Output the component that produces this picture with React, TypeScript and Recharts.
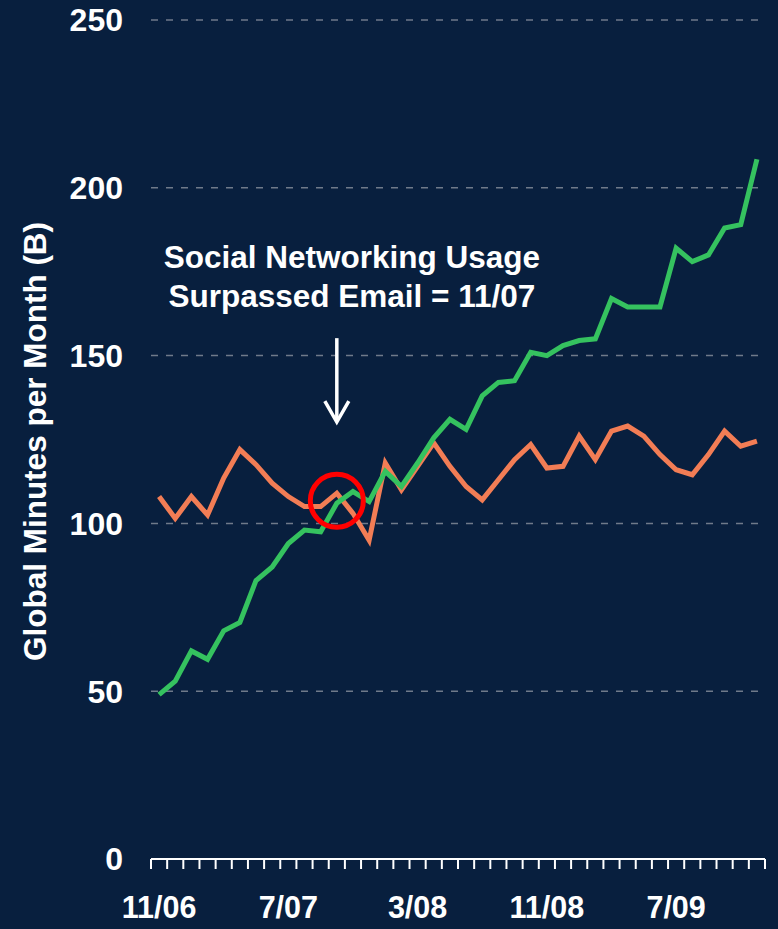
import React from 'react'
import {
  LineChart,
  Line,
  XAxis,
  YAxis,
  CartesianGrid,
  ReferenceDot,
  ReferenceLine,
  Label
} from 'recharts'

const BG = '#081f3e'
const GREEN = '#35c25f'
const ORANGE = '#f27d55'
const FONT = '"Liberation Sans", Arial, sans-serif'

// Nov 2006 .. Dec 2009, one point per month
const months = [
  '11/06', '12/06',
  '1/07', '2/07', '3/07', '4/07', '5/07', '6/07', '7/07', '8/07', '9/07', '10/07', '11/07', '12/07',
  '1/08', '2/08', '3/08', '4/08', '5/08', '6/08', '7/08', '8/08', '9/08', '10/08', '11/08', '12/08',
  '1/09', '2/09', '3/09', '4/09', '5/09', '6/09', '7/09', '8/09', '9/09', '10/09', '11/09', '12/09'
]

const socialNetworking = [
  49, 53, 62, 59.5, 68, 70.5, 83, 87, 94, 98, 97.5, 106, 109.5, 106.5, 115.5, 111, 118, 125.5, 131,
  128, 138, 142, 142.5, 151, 150, 153, 154.5, 155, 167, 164.5, 164.5, 164.5, 182, 178, 180, 188, 189, 208.5
]

const email = [
  108, 101.5, 108, 102.5, 113.5, 122, 117.5, 112, 108, 105, 105, 109, 103, 95, 118, 110, 117, 124, 117,
  111, 107, 113, 119, 123.5, 116.5, 117, 126, 119, 127.5, 129, 126, 120.5, 116, 114.5, 120.5, 127.5, 123, 124.5
]

const yTicks = [0, 50, 100, 150, 200, 250]
const labelIdx = [0, 8, 16, 24, 32]

const data = months.map((m, i) => ({ idx: i, month: m, social: socialNetworking[i], email: email[i] }))

// tick marks sit on month boundaries, labels on month centers
const boundaries = months.map((_, i) => i - 0.5).concat([months.length - 0.5])
const xTicks = [...boundaries, ...labelIdx]

const XTick = (props: any) => {
  const { x, y, payload } = props
  const v = payload.value
  if (Number.isInteger(v)) {
    return (
      <text x={x} y={y + 59} textAnchor="middle" fill="#fff" fontSize={30.5} fontWeight="bold" fontFamily={FONT}>
        {months[v]}
      </text>
    )
  }
  return <line x1={x} x2={x} y1={y} y2={y + 10} stroke="#fff" strokeWidth={2} />
}

const YTitle = (props: any) => {
  const vb = props.viewBox
  const cx = vb.x + 46
  const cy = vb.y + vb.height / 2 + 2
  return (
    <text
      x={cx}
      y={cy}
      transform={`rotate(-90 ${cx} ${cy})`}
      textAnchor="middle"
      fill="#fff"
      fontSize={31.5}
      fontWeight="bold"
      fontFamily={FONT}
    >
      Global Minutes per Month (B)
    </text>
  )
}

const Note = (props: any) => {
  const { cx, cy } = props
  return (
    <text x={cx + 15} y={cy} textAnchor="middle" fill="#fff" fontSize={31.5} fontWeight="bold" fontFamily={FONT}>
      <tspan x={cx + 15}>Social Networking Usage</tspan>
      <tspan x={cx + 15} dy={39}>Surpassed Email = 11/07</tspan>
    </text>
  )
}

const ArrowHead = (props: any) => {
  const { cx, cy } = props
  return (
    <polyline
      points={`${cx - 12},${cy - 21} ${cx},${cy} ${cx + 12},${cy - 21}`}
      fill="none"
      stroke="#fff"
      strokeWidth={3.5}
    />
  )
}

export default function App() {
  return (
    <div style={{ position: 'absolute', left: 0, top: 0, width: 778, height: 929, background: BG }}>
      <LineChart width={778} height={929} data={data} margin={{ top: 20, right: 13, bottom: 0, left: 0 }}>
        <CartesianGrid vertical={false} stroke="#6f7a8a" strokeDasharray="7 8" strokeWidth={1.5} />
        <XAxis
          dataKey="idx"
          type="number"
          domain={[-0.5, months.length - 0.5]}
          ticks={xTicks}
          interval={0}
          height={70}
          axisLine={{ stroke: '#fff', strokeWidth: 2 }}
          tickLine={false}
          tickSize={0}
          tickMargin={0}
          tick={<XTick />}
        />
        <YAxis
          domain={[0, 250]}
          ticks={yTicks}
          width={151}
          axisLine={false}
          tickLine={false}
          tickSize={0}
          tickMargin={28}
          tick={{ fill: '#fff', fontSize: 32, fontWeight: 'bold', fontFamily: FONT }}
        >
          <Label content={YTitle} />
        </YAxis>
        <Line dataKey="email" stroke={ORANGE} strokeWidth={5} dot={false} isAnimationActive={false} />
        <Line dataKey="social" stroke={GREEN} strokeWidth={5} dot={false} isAnimationActive={false} />
        <ReferenceDot x={11} y={106.75} r={26.5} fill="none" stroke="#ff0000" strokeWidth={5} />
        <ReferenceLine segment={[{ x: 11, y: 155.2 }, { x: 11, y: 130.6 }]} stroke="#fff" strokeWidth={3.5} />
        <ReferenceDot x={11} y={130.2} r={0} shape={<ArrowHead />} />
        <ReferenceDot x={11} y={176.1} r={0} shape={<Note />} />
      </LineChart>
    </div>
  )
}
